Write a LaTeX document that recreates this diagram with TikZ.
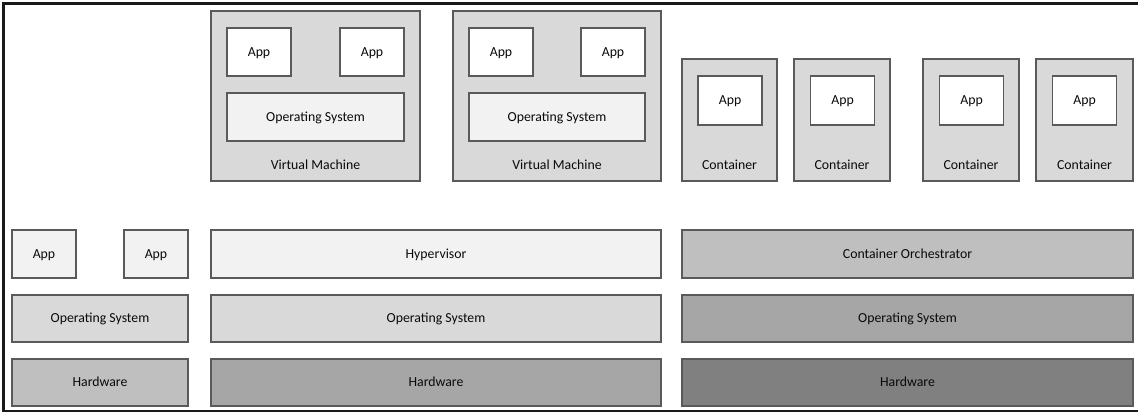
\documentclass[tikz,border=0pt]{standalone}
\usepackage{fontspec}
\setmainfont{Carlito}
\definecolor{bline}{HTML}{5A5A5A}
\definecolor{txt}{HTML}{0A0A0A}
\definecolor{cF}{HTML}{F2F2F2}
\definecolor{cD}{HTML}{D9D9D9}
\definecolor{cB}{HTML}{BFBFBF}
\definecolor{cA}{HTML}{A6A6A6}
\definecolor{c8}{HTML}{808080}
\begin{document}
\begin{tikzpicture}[x=1pt,y=-1pt,
  box/.style={draw=bline, line width=1.2pt, inner sep=0pt, outer sep=0pt, text=txt,
    text height=8.9pt, text depth=0pt,
    font=\fontsize{13.8}{16}\selectfont},
  lbl/.style={inner sep=0pt, text=txt, text height=8.9pt, text depth=0pt,
    font=\fontsize{13.8}{16}\selectfont},
  app/.style={box, minimum width=64pt, minimum height=48pt}]
\useasboundingbox (0,0) rectangle (1138,413);
\fill[white] (0,0) rectangle (1138,413);
% frame
\coordinate (ftr) at (1138,3.5);
\coordinate (ftl) at (3.5,3.5);
\coordinate (fbl) at (3.5,411);
\coordinate (fbr) at (1138,411);
\draw[line width=2.5pt, black!90] (ftr) -- (ftl) -- (fbl) -- (fbr);

% left column
\node[app, fill=cF] (lapp1) at (44,254) {App};
\node[app, fill=cF] (lapp2) at (156,254) {App};
\node[box, fill=cD, minimum width=176pt, minimum height=47pt] (los) at (100,318.5) {Operating System};
\node[box, fill=cB, minimum width=176pt, minimum height=47pt] (lhw) at (100,382.5) {Hardware};

% middle column
\node[box, fill=cD, minimum width=209pt, minimum height=170pt] (vm1) at (315.5,96) {};
\node[app, fill=white] (v1a1) at (259,52) {App};
\node[app, fill=white] (v1a2) at (372,52) {App};
\node[box, fill=cF, minimum width=177pt, minimum height=48pt] (v1os) at (315.5,117) {Operating System};
\node[lbl] (v1l) at (315.5,165) {Virtual Machine};

\node[box, fill=cD, minimum width=208pt, minimum height=170pt] (vm2) at (557,96) {};
\node[app, fill=white] (v2a1) at (501,52) {App};
\node[app, fill=white] (v2a2) at (613,52) {App};
\node[box, fill=cF, minimum width=176pt, minimum height=48pt] (v2os) at (557,117) {Operating System};
\node[lbl] (v2l) at (557,165) {Virtual Machine};

\node[box, fill=cF, minimum width=450pt, minimum height=48pt] (hyp) at (436,254) {Hypervisor};
\node[box, fill=cD, minimum width=450pt, minimum height=47pt] (mos) at (436,318.5) {Operating System};
\node[box, fill=cA, minimum width=450pt, minimum height=47pt] (mhw) at (436,382.5) {Hardware};

% right column
\node[box, fill=cD, minimum width=95pt, minimum height=122pt] (c1) at (729.5,120) {};
\node[box, fill=cD, minimum width=96pt, minimum height=122pt] (c2) at (842,120) {};
\node[box, fill=cD, minimum width=96pt, minimum height=122pt] (c3) at (971,120) {};
\node[box, fill=cD, minimum width=97pt, minimum height=122pt] (c4) at (1084.5,120) {};
\node[app, fill=white, minimum height=49pt] (c1a) at (730,100.5) {App};
\node[app, fill=white, minimum height=49pt] (c2a) at (842.5,100.5) {App};
\node[app, fill=white, minimum height=49pt] (c3a) at (971.5,100.5) {App};
\node[app, fill=white, minimum height=49pt] (c4a) at (1084.5,100.5) {App};
\node[lbl] (c1l) at (729.5,165) {Container};
\node[lbl] (c2l) at (842,165) {Container};
\node[lbl] (c3l) at (971,165) {Container};
\node[lbl] (c4l) at (1084.5,165) {Container};

\node[box, fill=cB, minimum width=451pt, minimum height=48pt] (orch) at (907.5,254) {Container Orchestrator};
\node[box, fill=cA, minimum width=451pt, minimum height=47pt] (ros) at (907.5,318.5) {Operating System};
\node[box, fill=c8, minimum width=451pt, minimum height=47pt] (rhw) at (907.5,382.5) {Hardware};
\end{tikzpicture}
\end{document}
